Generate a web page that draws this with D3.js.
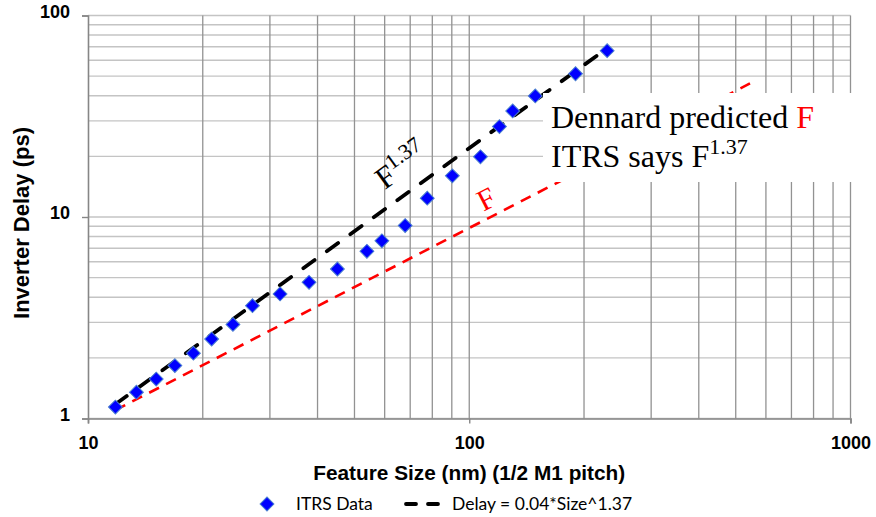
<!DOCTYPE html>
<html>
<head>
<meta charset="utf-8">
<script src="https://cdn.jsdelivr.net/npm/d3@7"></script>
<style>
  html, body { margin: 0; padding: 0; background: #fff; }
  svg { display: block; }
</style>
</head>
<body>
<svg id="chart" width="876" height="517"></svg>
<script>
// ITRS inverter delay vs. feature size (half M1 pitch)
const featureSize = [11.8, 13.4, 15.1, 16.9, 18.9, 21.1, 24.0, 27.0, 31.9, 38.0, 45.1,
                     53.9, 59.0, 67.9, 77.6, 90.3, 107, 120, 130, 149, 190, 230];
const inverterDelay = [1.14, 1.35, 1.57, 1.83, 2.11, 2.48, 2.93, 3.63, 4.15, 4.74, 5.52,
                       6.76, 7.62, 9.07, 12.4, 16.0, 19.9, 28.1, 33.6, 39.9, 51.4, 66.9];

// Power-law fit named in the legend: Delay = 0.04 * Size^1.37
const fitCoef = 0.04;
const fitExp = 1.37;
const fitRange = [11.8, 232];

// Dennard-scaling reference line (delay proportional to F)
const dennardX = [11.8, 545];
const dennardY = [1.10, 46.0];

const xTicks = [10, 100, 1000];
const yTicks = [1, 10, 100];

const svg = d3.select("#chart");
const plotLeft = 88, plotRight = 850.5, plotTop = 15.5, plotBottom = 418.5;

const x = d3.scaleLog().domain([10, 1000]).range([plotLeft, plotRight]);
const y = d3.scaleLog().domain([1, 100]).range([plotBottom, plotTop]);

// minor + major gridlines
const xGrid = [];
for (let d = 10; d < 1000; d *= 10) for (let k = 1; k <= 10; k++) xGrid.push(d * k);
const yGrid = [];
for (let d = 1; d < 100; d *= 10) for (let k = 1; k <= 10; k++) yGrid.push(d * k);

const grid = svg.append("g");
grid.selectAll("line.h").data(Array.from(new Set(yGrid))).join("line")
  .attr("class", "h")
  .attr("x1", plotLeft).attr("x2", plotRight)
  .attr("y1", d => y(d)).attr("y2", d => y(d))
  .attr("stroke", "#c4c4c4").attr("stroke-width", 1.4);
grid.selectAll("line.v").data(Array.from(new Set(xGrid)).filter(d => d > 10)).join("line")
  .attr("class", "v")
  .attr("x1", d => x(d)).attr("x2", d => x(d))
  .attr("y1", plotTop).attr("y2", plotBottom)
  .attr("stroke", "#929292").attr("stroke-width", 1.3);

// axes
const xAxis = d3.axisBottom(x).tickValues(xTicks).tickFormat(d3.format("d")).tickSize(5).tickPadding(8);
const yAxis = d3.axisLeft(y).tickValues(yTicks).tickFormat(d3.format("d")).tickSize(6).tickPadding(12);

const gx = svg.append("g").attr("transform", `translate(0,${plotBottom})`).call(xAxis);
const gy = svg.append("g").attr("transform", `translate(${plotLeft},0)`).call(yAxis);
[gx, gy].forEach(g => {
  g.select(".domain").attr("stroke", "#868686").attr("stroke-width", 1.6);
  g.selectAll(".tick line").attr("stroke", "#868686").attr("stroke-width", 1.4);
  g.selectAll(".tick text")
    .attr("fill", "#000")
    .style("font-family", "'Liberation Sans', Arial, sans-serif")
    .style("font-weight", "bold")
    .style("font-size", "18px");
});
gx.selectAll(".tick text").attr("dy", "0.95em");
gy.selectAll(".tick text").attr("dy", "0.1em");

// axis titles
svg.append("text")
  .attr("x", (plotLeft + plotRight) / 2).attr("y", 480)
  .attr("text-anchor", "middle")
  .style("font-family", "'Liberation Sans', Arial, sans-serif")
  .style("font-weight", "bold").style("font-size", "20.8px")
  .text("Feature Size (nm) (1/2 M1 pitch)");
svg.append("text")
  .attr("transform", `translate(29,${(plotTop + plotBottom) / 2 + 6}) rotate(-90)`)
  .attr("text-anchor", "middle")
  .style("font-family", "'Liberation Sans', Arial, sans-serif")
  .style("font-weight", "bold").style("font-size", "22px")
  .text("Inverter Delay (ps)");

const line = d3.line().x(d => x(d[0])).y(d => y(d[1]));

// Dennard reference line (red)
svg.append("path")
  .datum(dennardX.map((v, i) => [v, dennardY[i]]))
  .attr("d", line)
  .attr("fill", "none").attr("stroke", "#ff0000")
  .attr("stroke-width", 2.6).attr("stroke-dasharray", "11,8");

// power-law fit (black)
svg.append("path")
  .datum(fitRange.map(s => [s, fitCoef * Math.pow(s, fitExp)]))
  .attr("d", line)
  .attr("fill", "none").attr("stroke", "#000")
  .attr("stroke-width", 3.8).attr("stroke-linecap", "round")
  .attr("stroke-dasharray", "14,15");

// ITRS data points
const diamond = d3.symbol().type(d3.symbolSquare).size(96);
svg.append("g").selectAll("path")
  .data(featureSize.map((s, i) => [s, inverterDelay[i]]))
  .join("path")
  .attr("d", diamond)
  .attr("transform", d => `translate(${x(d[0])},${y(d[1])}) rotate(45)`)
  .attr("fill", "#0000ff").attr("stroke", "#4a7fd0").attr("stroke-width", 1);

// in-plot labels along the two lines
const serif = "'Liberation Serif', 'Times New Roman', serif";
const decadeX = (plotRight - plotLeft) / 2, decadeY = (plotBottom - plotTop) / 2;
const fitAngle = -Math.atan(fitExp * decadeY / decadeX) * 180 / Math.PI;
const fitLabelX = 60;
const fitLabel = svg.append("text")
  .attr("transform", `translate(${x(fitLabelX)},${y(fitCoef * Math.pow(fitLabelX, fitExp)) - 19}) rotate(${fitAngle})`)
  .style("font-family", serif).style("font-size", "31px").attr("fill", "#000");
fitLabel.append("tspan").text("F");
fitLabel.append("tspan").attr("dy", -12).style("font-size", "22px").text("1.37");

const dSlope = Math.log(dennardY[1] / dennardY[0]) / Math.log(dennardX[1] / dennardX[0]);
const dAngle = -Math.atan(dSlope * decadeY / decadeX) * 180 / Math.PI;
const dLabelX = 109;
const dLabelY = dennardY[0] * Math.pow(dLabelX / dennardX[0], dSlope);
svg.append("text")
  .attr("transform", `translate(${x(dLabelX)},${y(dLabelY) - 9}) rotate(${dAngle})`)
  .style("font-family", serif).style("font-size", "30px").attr("fill", "#ff0000")
  .text("F");

// annotation box
const box = svg.append("g");
box.append("rect")
  .attr("x", 543).attr("y", 93).attr("width", 310).attr("height", 89)
  .attr("fill", "#fff");
const t1 = box.append("text").attr("x", 551).attr("y", 128)
  .style("font-family", serif).style("font-size", "32px").attr("fill", "#000");
t1.append("tspan").text("Dennard predicted ");
t1.append("tspan").attr("fill", "#ff0000").text("F");
const t2 = box.append("text").attr("x", 551).attr("y", 167)
  .style("font-family", serif).style("font-size", "32px").attr("fill", "#000");
t2.append("tspan").text("ITRS says F");
t2.append("tspan").attr("dy", -13).style("font-size", "22px").text("1.37");

// legend
const lg = svg.append("g").attr("transform", "translate(0,504)");
lg.append("path")
  .attr("d", diamond)
  .attr("transform", "translate(267,0) rotate(45)")
  .attr("fill", "#0000ff").attr("stroke", "#4a7fd0").attr("stroke-width", 1);
lg.append("text").attr("x", 296).attr("y", 6)
  .style("font-family", "Lato, 'Open Sans', sans-serif").style("font-size", "17.5px")
  .text("ITRS Data");
lg.append("line")
  .attr("x1", 406).attr("x2", 441).attr("y1", 0).attr("y2", 0)
  .attr("stroke", "#000").attr("stroke-width", 3.8).attr("stroke-linecap", "round")
  .attr("stroke-dasharray", "10,12");
lg.append("text").attr("x", 452).attr("y", 6)
  .style("font-family", "Lato, 'Open Sans', sans-serif").style("font-size", "17.5px")
  .text("Delay = 0.04*Size^1.37");
</script>
</body>
</html>
